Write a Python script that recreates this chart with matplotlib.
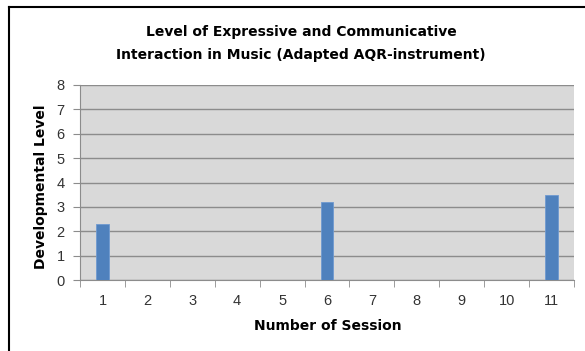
import matplotlib
matplotlib.use("Agg")
import matplotlib.pyplot as plt
from matplotlib.lines import Line2D

sessions = [1, 2, 3, 4, 5, 6, 7, 8, 9, 10, 11]
levels = [2.3, 0, 0, 0, 0, 3.2, 0, 0, 0, 0, 3.5]
title_lines = ["Level of Expressive and Communicative",
               "Interaction in Music (Adapted AQR-instrument)"]
xlabel = "Number of Session"
ylabel = "Developmental Level"

W, H = 585, 351
fig = plt.figure(figsize=(W/100, H/100), dpi=100)
fig.patch.set_facecolor("white")

ax = fig.add_axes([80/W, 1-280/H, (574-80)/W, (280-85)/H])
ax.set_facecolor("#D9D9D9")
ax.bar(sessions, levels, width=0.27, color="#4F81BD", edgecolor="#6F9AD0", linewidth=0.6, zorder=3)
ax.set_xlim(0.5, 11.5)
ax.set_ylim(0, 8)
ax.set_yticks(range(0, 9))
ax.yaxis.grid(True, color="#8C8C8C", linewidth=1.0, zorder=1)
ax.set_axisbelow(True)
ax.set_xticks(sessions)
ax.set_xticklabels([str(s) for s in sessions])
ax.set_xticks([s + 0.5 for s in [0] + sessions], minor=True)
ax.tick_params(axis="x", which="major", length=0, pad=10, labelsize=10.5, labelcolor="#333333")
ax.tick_params(axis="x", which="minor", length=5, color="#8C8C8C", direction="out")
ax.tick_params(axis="y", length=5, color="#8C8C8C", labelsize=10.5, labelcolor="#333333", pad=6)
for lab in ax.get_xticklabels() + ax.get_yticklabels():
    lab.set_fontfamily("Liberation Sans")
for s in ["top", "right"]:
    ax.spines[s].set_visible(False)
ax.spines["left"].set_color("#8C8C8C")
ax.spines["bottom"].set_color("#8C8C8C")

fig.text(301/W, 1-32/H, title_lines[0], ha="center", va="center", fontsize=10, fontweight="bold", family="DejaVu Sans")
fig.text(301/W, 1-55/H, title_lines[1], ha="center", va="center", fontsize=10, fontweight="bold", family="DejaVu Sans")
fig.text(328/W, 1-326/H, xlabel, ha="center", va="center", fontsize=10, fontweight="bold", family="DejaVu Sans")
fig.text(41/W, 1-187/H, ylabel, ha="center", va="center", rotation=90, fontsize=10, fontweight="bold", family="DejaVu Sans")

fig.add_artist(Line2D([9/W, 9/W], [0, 1-7/H], transform=fig.transFigure, color="black", linewidth=1.5))
fig.add_artist(Line2D([9/W, 1], [1-7/H, 1-7/H], transform=fig.transFigure, color="black", linewidth=1.5))

fig.savefig("out.png", dpi=100)
